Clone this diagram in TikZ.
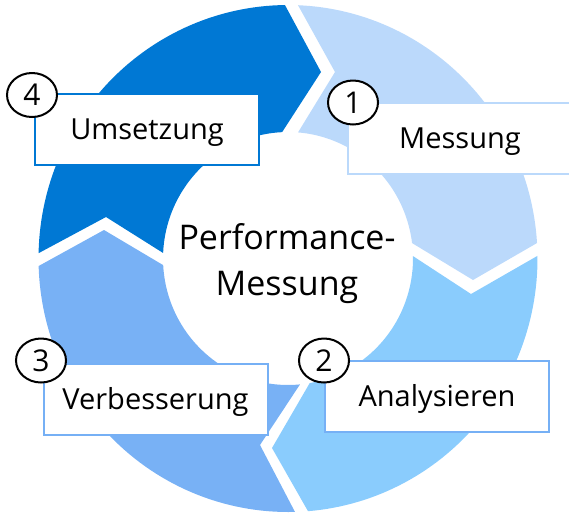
\documentclass[tikz,border=0pt]{standalone}
\usepackage{fontspec}
\setmainfont{Open Sans}
\usetikzlibrary{shapes.geometric}
\definecolor{segA}{RGB}{187,217,251}
\definecolor{segB}{RGB}{138,204,253}
\definecolor{segC}{RGB}{120,177,245}
\definecolor{segD}{RGB}{0,120,212}
\definecolor{rimB}{RGB}{118,176,245}
\tikzset{
  labelbox/.style={rectangle, draw=#1, line width=2pt, fill=white, minimum width=224pt, minimum height=71pt, inner sep=0pt, text height=20.6pt, text depth=0pt, font=\fontsize{29}{35}\selectfont},
  badge/.style={ellipse, draw=black, line width=2pt, fill=white, minimum width=50pt, minimum height=44pt, inner sep=0pt, text height=21pt, text depth=0pt, font=\fontsize{30}{36}\selectfont},
  titletext/.style={align=center, font=\fontsize{34}{46}\selectfont}
}
\begin{document}
\begin{tikzpicture}[x=1pt,y=-1pt]
\useasboundingbox (0,0) rectangle (569,512);
\clip (0,0) rectangle (569,512);
% ring segments (centre 288,258.5; outer radii 249.5/253.5; inner 125/126.5)
\fill[segA] plot[domain=272.3:356.5,samples=60] ({288+249.5*cos(\x)},{258.5+253.5*sin(\x)})
  -- (473,280) -- ({288+125*cos(353)},{258.5+126.5*sin(353)})
  -- plot[domain=353:274.6,samples=40] ({288+125*cos(\x)},{258.5+126.5*sin(\x)})
  -- (335,72) -- cycle;
\fill[segB] plot[domain=-0.6:85.4,samples=60] ({288+249.5*cos(\x)},{258.5+253.5*sin(\x)})
  -- (272,448) -- ({288+125*cos(80)},{258.5+126.5*sin(80)})
  -- plot[domain=80:-1.1,samples=40] ({288+125*cos(\x)},{258.5+126.5*sin(\x)})
  -- (471,294) -- cycle;
\fill[segC] plot[domain=88.4:178.3,samples=60] ({288+249.5*cos(\x)},{258.5+253.5*sin(\x)})
  -- (104,230) -- ({288+125*cos(177)},{258.5+126.5*sin(177)})
  -- plot[domain=177:84.5,samples=40] ({288+125*cos(\x)},{258.5+126.5*sin(\x)})
  -- (260,445) -- cycle;
\fill[segD] plot[domain=181.2:269.3,samples=60] ({288+249.5*cos(\x)},{258.5+253.5*sin(\x)})
  -- (321,72) -- ({288+125*cos(267.3)},{258.5+126.5*sin(267.3)})
  -- plot[domain=267.3:182.5,samples=40] ({288+125*cos(\x)},{258.5+126.5*sin(\x)})
  -- (106,217) -- cycle;
% centre title
\node[titletext] (title) at (287,264) {Performance-\\Messung};
% label boxes
\node[labelbox=segA] (messung) at (460,138) {Messung};
\node[labelbox=rimB] (analysieren) at (437,396.5) {Analysieren};
\node[labelbox=rimB] (verbesserung) at (155.5,399.5) {Verbesserung};
\node[labelbox=segD] (umsetzung) at (147,129) {Umsetzung};
% number badges
\node[badge] (n1) at (353,102.5) {1};
\node[badge] (n2) at (324,360.5) {2};
\node[badge] (n3) at (41,360.5) {3};
\node[badge] (n4) at (32,95) {4};
\end{tikzpicture}
\end{document}
